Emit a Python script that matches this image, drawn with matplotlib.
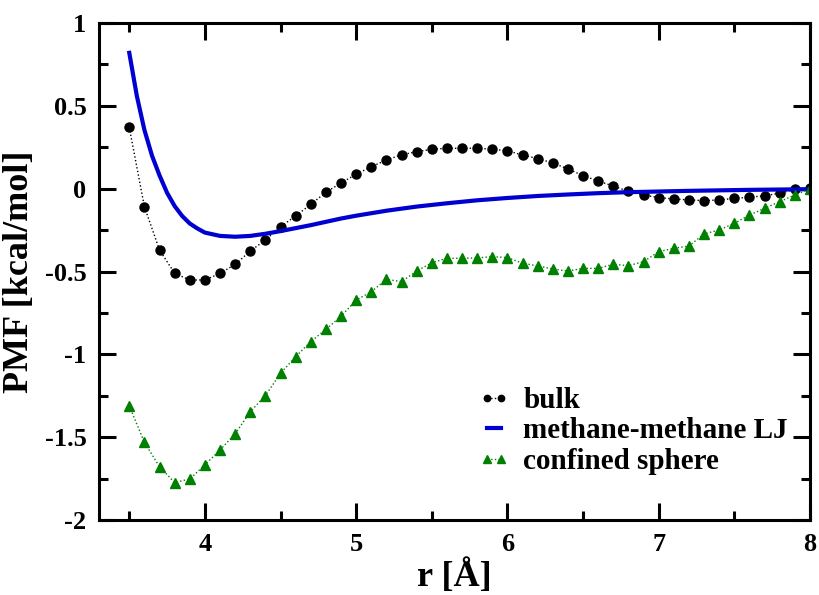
import numpy as np
import matplotlib
matplotlib.use('Agg')
import matplotlib.pyplot as plt
from matplotlib.ticker import MultipleLocator

# r grid for the sampled PMF curves (0.1 A steps)
r_pts = np.round(np.arange(3.5, 8.0001, 0.1), 2)

bulk = [0.370, -0.109, -0.370, -0.511, -0.551, -0.551, -0.511, -0.457, -0.376, -0.310,
        -0.229, -0.165, -0.094, -0.022, 0.035, 0.087, 0.133, 0.173, 0.205, 0.223,
        0.238, 0.244, 0.244, 0.244, 0.238, 0.229, 0.203, 0.182, 0.155, 0.119,
        0.079, 0.046, 0.016, -0.016, -0.038, -0.054, -0.062, -0.068, -0.072, -0.068,
        -0.058, -0.052, -0.042, -0.028, -0.004, 0.005]

confined = [-1.311, -1.531, -1.678, -1.774, -1.752, -1.667, -1.577, -1.480, -1.346, -1.249,
            -1.114, -1.014, -0.923, -0.849, -0.770, -0.672, -0.622, -0.547, -0.561, -0.497,
            -0.447, -0.420, -0.420, -0.418, -0.410, -0.416, -0.450, -0.466, -0.485, -0.497,
            -0.481, -0.481, -0.456, -0.465, -0.440, -0.380, -0.360, -0.346, -0.273, -0.249,
            -0.209, -0.159, -0.118, -0.078, -0.038, -0.002]

# methane-methane LJ curve
r_lj = [3.5, 3.55, 3.6, 3.65, 3.7, 3.75, 3.8, 3.85, 3.9, 3.95, 4.0, 4.1, 4.2, 4.3, 4.4,
        4.5, 4.6, 4.7, 4.8, 4.9, 5.0, 5.2, 5.4, 5.6, 5.8, 6.0, 6.2, 6.4, 6.6, 6.8,
        7.0, 7.2, 7.4, 7.6, 7.8, 8.0]
lj = [0.82, 0.56, 0.355, 0.2, 0.08, -0.025, -0.105, -0.165, -0.21, -0.24, -0.265, -0.285,
      -0.29, -0.285, -0.272, -0.256, -0.238, -0.22, -0.2, -0.18, -0.163, -0.133, -0.108,
      -0.088, -0.07, -0.056, -0.044, -0.035, -0.027, -0.021, -0.017, -0.013, -0.01,
      -0.007, -0.005, -0.003]

plt.rcParams['font.family'] = ['Liberation Serif', 'DejaVu Serif']
plt.rcParams['font.weight'] = 'bold'

fig = plt.figure(figsize=(8.19, 5.95), dpi=100)
ax = fig.add_axes([0.1209, 0.126, 0.8681, 0.8353])

ax.plot(r_pts, bulk, color='black', ls=':', lw=1, marker='o', ms=6.5, label='bulk')
ax.plot(r_lj, lj, color='#0000d0', lw=3, label='methane-methane LJ')
ax.plot(r_pts, confined, color='green', ls=':', lw=1, marker='^', ms=7.5,
        label='confined sphere')

ax.set_xlim(3.3, 8)
ax.set_ylim(-2, 1)
ax.xaxis.set_major_locator(MultipleLocator(1))
ax.xaxis.set_minor_locator(MultipleLocator(0.5))
ax.yaxis.set_major_locator(MultipleLocator(0.5))
ax.yaxis.set_minor_locator(MultipleLocator(0.25))
ax.set_yticks([1, 0.5, 0, -0.5, -1, -1.5, -2])
ax.set_yticklabels(['1', '0.5', '0', '-0.5', '-1', '-1.5', '-2'])

ax.tick_params(which='both', direction='in', top=True, right=True, width=2.2,
               labelsize=19)
ax.tick_params(which='major', length=12, pad=9)
ax.tick_params(which='minor', length=6.5)
for s in ax.spines.values():
    s.set_linewidth(2.2)

ax.set_xlabel('r [Å]', fontsize=26, fontweight='bold', labelpad=3)
ax.set_ylabel('PMF [kcal/mol]', fontsize=26, fontweight='bold', labelpad=6)

ax.legend(loc='upper left', bbox_to_anchor=(0.533, 0.268), frameon=False,
          numpoints=2, handlelength=1.1, handletextpad=0.45,
          labelspacing=0.12, borderaxespad=0, borderpad=0, markerscale=0.7,
          prop={'weight': 'bold', 'size': 21})

fig.savefig('out.png', dpi=100)
